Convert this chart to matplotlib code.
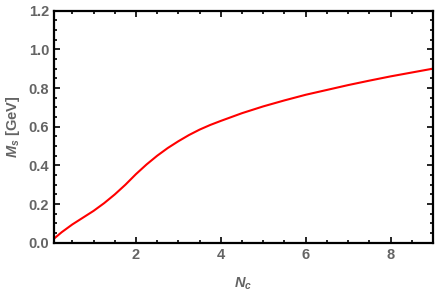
import matplotlib
matplotlib.use('Agg')
import matplotlib.pyplot as plt
from matplotlib.ticker import MultipleLocator, FormatStrFormatter

plt.rcParams['font.family'] = ['Liberation Sans', 'DejaVu Sans']
plt.rcParams['mathtext.fontset'] = 'custom'
plt.rcParams['mathtext.it'] = 'Liberation Sans:italic:bold'
plt.rcParams['mathtext.rm'] = 'Liberation Sans:bold'

# M_s vs N_c
nc = [0.07, 0.25, 0.5, 0.75, 1.0, 1.25, 1.5, 1.75, 2.0, 2.25, 2.5, 2.75,
      3.0, 3.25, 3.5, 3.75, 4.0, 4.5, 5.0, 5.5, 6.0, 6.5, 7.0, 7.5, 8.0, 8.5, 9.0]
ms = [0.022, 0.055, 0.095, 0.13, 0.165, 0.205, 0.25, 0.30, 0.355, 0.405, 0.45, 0.49,
      0.525, 0.557, 0.585, 0.609, 0.63, 0.67, 0.705, 0.736, 0.765, 0.79, 0.815, 0.838, 0.86, 0.88, 0.90]

gray = '#646464'

fig = plt.figure(figsize=(4.36, 2.94), dpi=100)
ax = fig.add_axes([0.124, 0.174, 0.869, 0.790])
ax.plot(nc, ms, color='red', lw=1.5)

ax.set_xlim(0.07, 9)
ax.set_ylim(0, 1.2)
ax.xaxis.set_major_locator(MultipleLocator(2))
ax.xaxis.set_minor_locator(MultipleLocator(0.5))
ax.yaxis.set_major_locator(MultipleLocator(0.2))
ax.yaxis.set_minor_locator(MultipleLocator(0.05))
ax.yaxis.set_major_formatter(FormatStrFormatter('%.1f'))

ax.tick_params(which='both', direction='in', top=True, right=True,
               labelcolor=gray, labelsize=10.5, width=1.2)
ax.tick_params(which='major', length=4)
ax.tick_params(which='minor', length=2)
for lab in ax.get_xticklabels() + ax.get_yticklabels():
    lab.set_fontweight('bold')
for sp in ax.spines.values():
    sp.set_linewidth(1.6)

ax.set_xlabel('$N_c$', color=gray, fontsize=10.5, labelpad=10)
ax.set_ylabel('$M_s$ [GeV]', color=gray, fontsize=10.5, fontweight='bold', labelpad=5)

fig.savefig('out.png', dpi=100)
